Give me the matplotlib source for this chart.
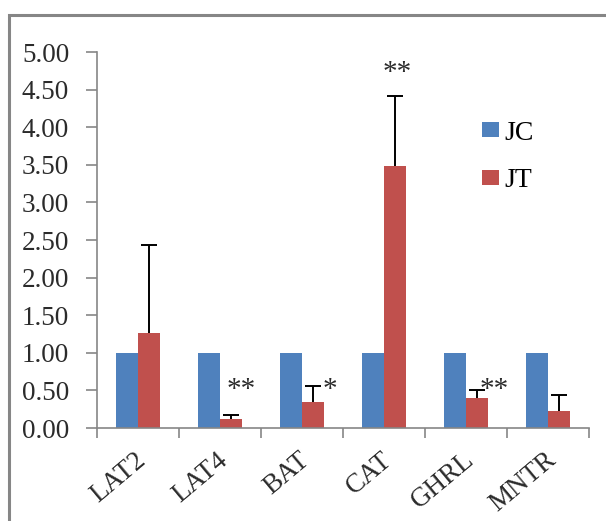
import numpy as np
import matplotlib.pyplot as plt
from matplotlib.patches import Rectangle

genes = ['LAT2', 'LAT4', 'BAT', 'CAT', 'GHRL', 'MNTR']
jc = [1.00, 1.00, 1.00, 1.00, 1.00, 1.00]
jt = [1.26, 0.12, 0.34, 3.49, 0.40, 0.23]
jt_err = [1.17, 0.05, 0.22, 0.93, 0.10, 0.21]
stars = ['', '**', '*', '**', '**', '']

blue = '#4F81BD'
red = '#C0504D'
grey = '#868686'
txt = '#2b2b2b'
serif = ['Liberation Serif', 'DejaVu Serif']

fig = plt.figure(figsize=(6.06, 5.21), dpi=100)
# outer chart frame (runs off the right and bottom edges)
fig.patches.append(Rectangle((9 / 606, -0.1), 1.0, 1 - 15 / 521 + 0.1,
                             transform=fig.transFigure, fill=False,
                             edgecolor=grey, linewidth=2.2))

ax = fig.add_axes([97 / 606, 1 - 428 / 521, (589 - 97) / 606, (428 - 52) / 521])
x = np.arange(len(genes))
w = 0.27

ax.bar(x - w / 2, jc, w, color=blue, label='JC', zorder=2)
ax.bar(x + w / 2, jt, w, color=red, label='JT', zorder=2)

# upper error bars only
top = np.array(jt) + np.array(jt_err)
ax.vlines(x + w / 2, jt, top, color='black', lw=1.4, zorder=3)
ax.hlines(top, x + w / 2 - 0.1, x + w / 2 + 0.1, color='black', lw=1.4, zorder=3)

# significance marks
star_xoff = [0, 0.26, 0.34, 0.16, 0.34, 0]
for i, s in enumerate(stars):
    if not s:
        continue
    yy = 4.55 if genes[i] == 'CAT' else 0.33
    ax.text(x[i] + star_xoff[i], yy, s, ha='center', va='bottom',
            fontsize=21, family=serif, color=txt)

ax.set_xlim(-0.5, len(genes) - 0.5)
ax.set_ylim(0, 5)
ax.set_yticks(np.arange(0, 5.01, 0.5))
ax.set_yticklabels(['%.2f' % v for v in np.arange(0, 5.01, 0.5)],
                   family=serif, fontsize=19.5, color=txt)
ax.set_xticks(np.arange(len(genes) + 1) - 0.5)
ax.set_xticklabels([])
ax.set_xticks(x + 0.06, minor=True)
ax.set_xticklabels(genes, minor=True, rotation=40, ha='right', va='center',
                   rotation_mode='anchor', family=serif, fontsize=19.5,
                   color=txt)
ax.tick_params(axis='x', which='major', length=7, color=grey, width=1.2)
ax.tick_params(axis='x', which='minor', length=0, pad=21)
ax.tick_params(axis='y', length=8, color=grey, width=1.2, pad=12)

for sp in ['top', 'right']:
    ax.spines[sp].set_visible(False)
for sp in ['left', 'bottom']:
    ax.spines[sp].set_color(grey)
    ax.spines[sp].set_linewidth(1.2)

ax.legend(loc='center left', bbox_to_anchor=(0.755, 0.721), frameon=False,
          borderpad=0, prop={'family': serif, 'size': 20}, handlelength=0.6,
          handleheight=0.45, handletextpad=0.2, labelspacing=0.8)

fig.savefig('out.png', dpi=100)
